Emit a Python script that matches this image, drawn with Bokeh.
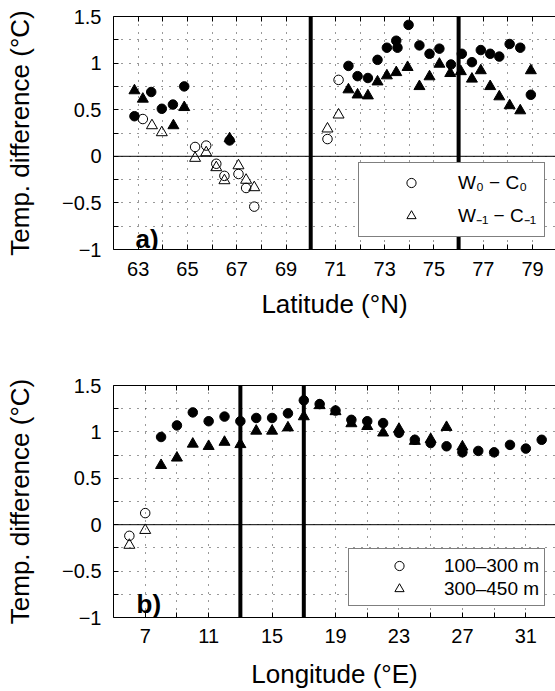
from bokeh.plotting import figure
from bokeh.models import (Range1d, LinearAxis, FixedTicker, CustomJSTickFormatter,
                          Span, Label, Legend, LegendItem)
from bokeh.layouts import column
from bokeh.embed import file_html
from bokeh.resources import INLINE

FONT = "Liberation Sans"

# ---------------- panel a: along latitude ----------------
# W0 - C0 (circles), filled = solid markers, open = hollow markers
a_circ_fill_lat = [62.85, 63.53, 63.96, 64.41, 64.87, 66.71,
                   71.53, 71.90, 72.32, 72.71, 73.09, 73.47, 73.52, 73.97, 74.41,
                   74.82, 75.22, 75.69, 76.13, 76.54, 76.90, 77.28, 77.65, 78.07,
                   78.50, 78.93]
a_circ_fill_val = [0.43, 0.69, 0.51, 0.555, 0.75, 0.17,
                   0.97, 0.86, 0.84, 1.035, 1.165, 1.24, 1.165, 1.41, 1.19,
                   1.10, 1.155, 0.985, 1.10, 1.01, 1.14, 1.10, 1.07, 1.205,
                   1.165, 0.66]
a_circ_open_lat = [63.19, 65.31, 65.76, 66.17, 66.50, 67.07, 67.38, 67.71, 70.68, 71.13]
a_circ_open_val = [0.40, 0.10, 0.115, -0.08, -0.21, -0.19, -0.34, -0.54, 0.185, 0.82]

# W-1 - C-1 (triangles)
a_tri_fill_lat = [62.85, 63.19, 64.43, 64.87, 66.71,
                  71.53, 71.90, 72.32, 72.71, 73.09, 73.47, 73.93, 74.41, 74.82,
                  75.22, 75.66, 76.09, 76.54, 76.90, 77.28, 77.65, 78.07, 78.50, 78.93]
a_tri_fill_val = [0.705, 0.615, 0.33, 0.525, 0.19,
                  0.715, 0.66, 0.65, 0.80, 0.865, 0.90, 0.955, 0.75, 0.855,
                  0.99, 0.89, 0.91, 0.83, 0.92, 0.75, 0.64, 0.545, 0.49, 0.92]
a_tri_open_lat = [63.56, 63.96, 65.31, 65.76, 66.17, 66.50, 67.07, 67.38, 67.71, 70.68, 71.13]
a_tri_open_val = [0.33, 0.255, -0.02, 0.04, -0.12, -0.26, -0.10, -0.255, -0.335, 0.295, 0.445]

# ---------------- panel b: along longitude ----------------
b_circ_fill_lon = [8, 9, 10, 11, 12, 13, 14, 15, 16, 17, 18, 19, 20, 21, 22, 23,
                   24, 25, 26, 27, 28, 29, 30, 31, 32]
b_circ_fill_val = [0.945, 1.07, 1.21, 1.115, 1.165, 1.115, 1.15, 1.15, 1.20, 1.34,
                   1.30, 1.23, 1.13, 1.115, 1.095, 0.99, 0.915, 0.88, 0.845, 0.78,
                   0.795, 0.78, 0.86, 0.82, 0.915]
b_circ_open_lon = [6, 7]
b_circ_open_val = [-0.12, 0.125]
b_tri_fill_lon = [8, 9, 10, 11, 12, 13, 14, 15, 16, 17, 18, 19, 20, 21, 22, 23,
                  24, 25, 26, 27]
b_tri_fill_val = [0.64, 0.72, 0.87, 0.845, 0.89, 0.865, 1.01, 1.01, 1.045, 1.165,
                  1.285, 1.22, 1.09, 1.06, 0.99, 1.03, 0.90, 0.92, 1.05, 0.84]
b_tri_open_lon = [6, 7]
b_tri_open_val = [-0.22, -0.06]

# ---------------- axes / ticks ----------------
temp_bounds = (-1, 1.5)
temp_ticks = [-1, -0.75, -0.5, -0.25, 0, 0.25, 0.5, 0.75, 1, 1.25, 1.5]
temp_label_pos = [-1, -0.5, 0, 0.5, 1, 1.5]
temp_label_txt = ["\u22121", "\u22120.5", "0", "0.5", "1", "1.5"]

lat_bounds = (62, 79.93)
lat_ticks = [63, 64, 65, 66, 67, 68, 69, 70, 71, 72, 73, 74, 75, 76, 77, 78, 79]
lat_label_pos = [63, 65, 67, 69, 71, 73, 75, 77, 79]
lat_label_txt = ["63", "65", "67", "69", "71", "73", "75", "77", "79"]
lat_fronts = [70, 76]

lon_bounds = (5, 32.87)
lon_ticks = [7, 9, 11, 13, 15, 17, 19, 21, 23, 25, 27, 29, 31]
lon_label_pos = [7, 11, 15, 19, 23, 27, 31]
lon_label_txt = ["7", "11", "15", "19", "23", "27", "31"]
lon_fronts = [13, 17]


def tick_formatter(pos, txt):
    return CustomJSTickFormatter(args=dict(pos=pos, txt=txt), code="""
        for (let i = 0; i < pos.length; i++) {
            if (Math.abs(pos[i] - tick) < 1e-6) { return txt[i]; }
        }
        return "";
    """)


def style_axis(ax, standoff):
    ax.axis_line_color = "black"
    ax.axis_line_width = 1
    ax.major_tick_in = 5
    ax.major_tick_out = 0
    ax.major_tick_line_color = "black"
    ax.minor_tick_line_color = None
    ax.major_label_standoff = standoff
    ax.major_label_text_font = FONT
    ax.major_label_text_font_size = "20px"
    ax.major_label_text_color = "black"
    ax.axis_label_text_font = FONT
    ax.axis_label_text_font_size = "26px"
    ax.axis_label_text_font_style = "normal"
    ax.axis_label_text_color = "black"


def make_panel(height, top, bottom, x_bounds, x_ticks, x_lab_pos, x_lab_txt,
               x_title, x_std, x_title_std, fronts):
    p = figure(width=555, height=height,
               x_range=Range1d(*x_bounds), y_range=Range1d(*temp_bounds),
               output_backend="svg", toolbar_location=None, tools="",
               min_border_left=113, min_border_right=0,
               min_border_top=top, min_border_bottom=bottom,
               outline_line_color=None,
               background_fill_color="white", border_fill_color="white")
    xa = p.xaxis[0]
    xa.ticker = FixedTicker(ticks=x_ticks)
    xa.formatter = tick_formatter(x_lab_pos, x_lab_txt)
    xa.axis_label = x_title
    style_axis(xa, x_std)
    xa.axis_label_standoff = x_title_std

    ya = p.yaxis[0]
    ya.ticker = FixedTicker(ticks=temp_ticks)
    ya.formatter = tick_formatter(temp_label_pos, temp_label_txt)
    ya.axis_label = "Temp. difference (\u00b0C)"
    style_axis(ya, 12)
    ya.axis_label_standoff = 24

    ta = LinearAxis(ticker=FixedTicker(ticks=x_ticks),
                    formatter=CustomJSTickFormatter(code="return '';"))
    style_axis(ta, 0)
    ta.major_label_text_font_size = "1px"
    p.add_layout(ta, "above")

    for g in (p.xgrid[0], p.ygrid[0]):
        g.grid_line_color = "black"
        g.grid_line_alpha = 0.8
        g.grid_line_dash = "1 7"
        g.grid_line_width = 1

    p.add_layout(Span(location=0, dimension="width", line_color="black", line_width=1))
    for f in fronts:
        p.add_layout(Span(location=f, dimension="height", line_color="black", line_width=4))
    return p


def add_markers(p, cfx, cfy, cox, coy, tfx, tfy, tox, toy):
    p.scatter(cfx, cfy, marker="circle", size=9.5, fill_color="black", line_color="black")
    p.scatter(tfx, tfy, marker="triangle", size=11, fill_color="black", line_color="black")
    rc = p.scatter(cox, coy, marker="circle", size=9.5, fill_color=None,
                   line_color="black", line_width=1)
    rt = p.scatter(tox, toy, marker="triangle", size=11, fill_color=None,
                   line_color="black", line_width=1)
    return rc, rt


def add_legend(p, items, loc, padding, spacing, glyph_w, standoff):
    leg = Legend(items=items, location=loc, orientation="vertical",
                 border_line_color="black", border_line_width=1,
                 background_fill_color="white", background_fill_alpha=1.0,
                 label_text_font=FONT, label_text_font_size="19px",
                 label_text_color="black",
                 glyph_width=glyph_w, glyph_height=23, label_height=23,
                 label_standoff=standoff, padding=padding, spacing=spacing, margin=0)
    p.add_layout(leg)


# ---- panel a ----
pa = make_panel(340, 16, 91, lat_bounds, lat_ticks, lat_label_pos, lat_label_txt,
                "Latitude (\u00b0N)", 12, 10, lat_fronts)
rca, rta = add_markers(pa, a_circ_fill_lat, a_circ_fill_val, a_circ_open_lat, a_circ_open_val,
                       a_tri_fill_lat, a_tri_fill_val, a_tri_open_lat, a_tri_open_val)
add_legend(pa, [LegendItem(label="W\u2080 \u2212 C\u2080", renderers=[rca]),
                LegendItem(label="W\u208b\u2081 \u2212 C\u208b\u2081", renderers=[rta])],
           (245, 12), 8, 8, 88, 3)
pa.add_layout(Label(x=22, y=11, x_units="screen", y_units="screen", text="a)",
                    text_font=FONT, text_font_size="26px", text_font_style="bold",
                    text_color="black", text_baseline="alphabetic"))

# ---- panel b ----
pb = make_panel(351, 45, 74, lon_bounds, lon_ticks, lon_label_pos, lon_label_txt,
                "Longitude (\u00b0E)", 11, 13, lon_fronts)
rcb, rtb = add_markers(pb, b_circ_fill_lon, b_circ_fill_val, b_circ_open_lon, b_circ_open_val,
                       b_tri_fill_lon, b_tri_fill_val, b_tri_open_lon, b_tri_open_val)
add_legend(pb, [LegendItem(label="100\u2013300 m", renderers=[rcb]),
                LegendItem(label="300\u2013450 m", renderers=[rtb])],
           (235, 11), 5, 0, 90, 0)
pb.add_layout(Label(x=23, y=14, x_units="screen", y_units="screen", text="b)",
                    text_font=FONT, text_font_size="26px", text_font_style="bold",
                    text_color="black", text_baseline="alphabetic"))

layout = column(pa, pb, spacing=0)
open("out.html", "w").write(file_html(layout, INLINE))
